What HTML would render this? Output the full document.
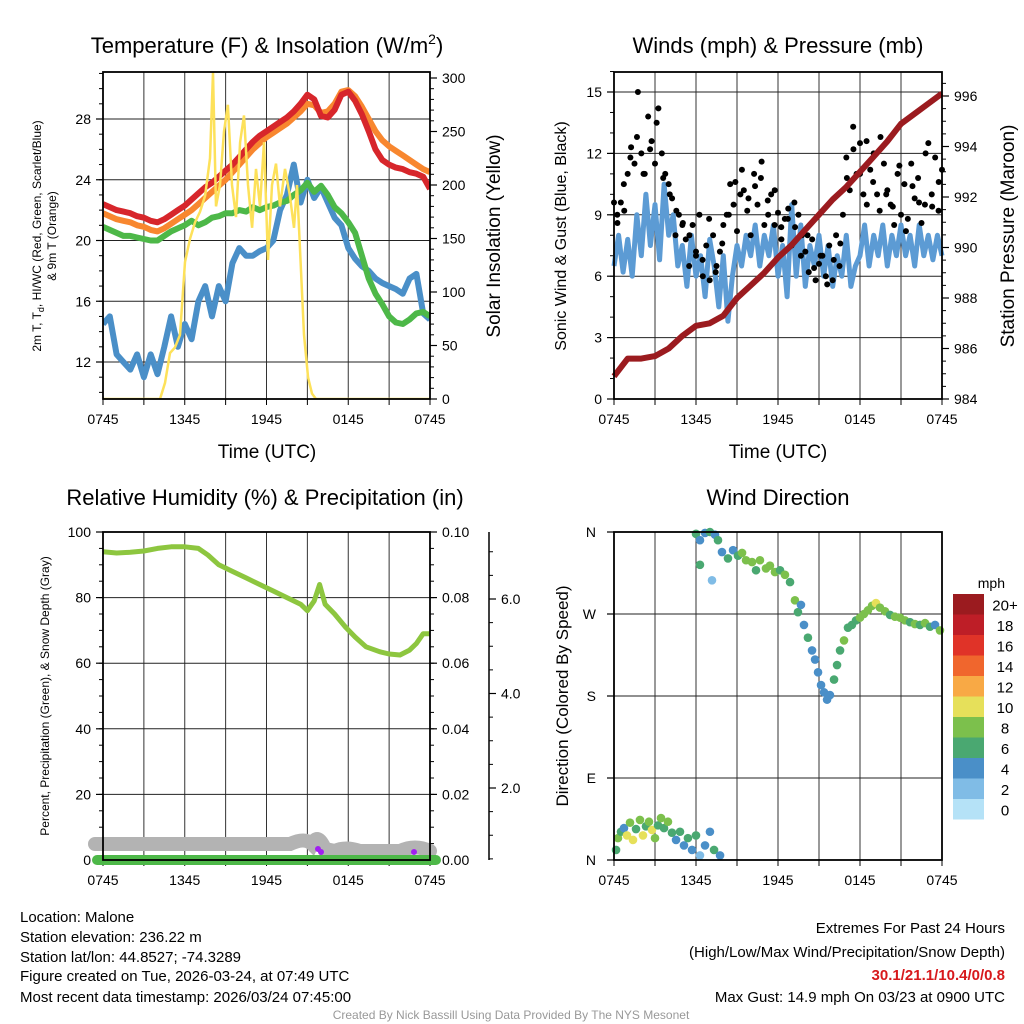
<!DOCTYPE html>
<html><head><meta charset="utf-8"><style>
body{margin:0;background:#fff}
svg{display:block;font-family:"Liberation Sans",Arial,sans-serif}
</style></head><body>
<svg id="s" width="1024" height="1024" viewBox="0 0 1024 1024" xmlns="http://www.w3.org/2000/svg">
<rect width="1024" height="1024" fill="#fff"/>
<g id="g"></g>
<text x="267" y="53" font-size="22" text-anchor="middle">Temperature (F) &amp; Insolation (W/m<tspan dy="-9" font-size="14">2</tspan><tspan dy="9">)</tspan></text>
<text x="778" y="53" font-size="22" text-anchor="middle">Winds (mph) &amp; Pressure (mb)</text>
<text x="265" y="505" font-size="22" text-anchor="middle">Relative Humidity (%) &amp; Precipitation (in)</text>
<text x="778" y="505" font-size="22" text-anchor="middle">Wind Direction</text>
<text x="267" y="458" font-size="19" text-anchor="middle">Time (UTC)</text>
<text x="778" y="458" font-size="19" text-anchor="middle">Time (UTC)</text>
<text transform="translate(41,236) rotate(-90)" font-size="12" text-anchor="middle">2m T, T<tspan dy="3" font-size="9">d</tspan><tspan dy="-3">, HI/WC (Red, Green, Scarlet/Blue)</tspan></text>
<text transform="translate(56,236) rotate(-90)" font-size="12" text-anchor="middle">&amp; 9m T (Orange)</text>
<text transform="translate(500,236) rotate(-90)" font-size="19" text-anchor="middle">Solar Insolation (Yellow)</text>
<text transform="translate(566,236) rotate(-90)" font-size="16" text-anchor="middle">Sonic Wind &amp; Gust (Blue, Black)</text>
<text transform="translate(1014,236) rotate(-90)" font-size="19" text-anchor="middle">Station Pressure (Maroon)</text>
<text transform="translate(49,696) rotate(-90)" font-size="12" text-anchor="middle">Percent, Precipitation (Green), &amp; Snow Depth (Gray)</text>
<text transform="translate(568,696) rotate(-90)" font-size="17" text-anchor="middle">Direction (Colored By Speed)</text>
<text x="1005" y="588" font-size="14" text-anchor="end">mph</text>
<g font-size="15">
<text x="20" y="922">Location: Malone</text>
<text x="20" y="942">Station elevation: 236.22 m</text>
<text x="20" y="962">Station lat/lon: 44.8527; -74.3289</text>
<text x="20" y="981">Figure created on Tue, 2026-03-24, at 07:49 UTC</text>
<text x="20" y="1002">Most recent data timestamp: 2026/03/24 07:45:00</text>
</g>
<g font-size="15" text-anchor="end">
<text x="1005" y="933">Extremes For Past 24 Hours</text>
<text x="1005" y="957">(High/Low/Max Wind/Precipitation/Snow Depth)</text>
<text x="1005" y="980" fill="#d7191c" font-weight="bold">30.1/21.1/10.4/0/0.8</text>
<text x="1005" y="1002">Max Gust: 14.9 mph On 03/23 at 0900 UTC</text>
</g>
<text x="511" y="1019" font-size="12" fill="#999" text-anchor="middle">Created By Nick Bassill Using Data Provided By The NYS Mesonet</text>
</svg>
<script>
// ---- data ----
const tempRed=[22.4,22.2,22.0,21.9,21.8,21.6,21.5,21.3,21.2,21.4,21.7,22.0,22.3,22.7,23.1,23.5,23.8,24.2,24.6,25.0,25.5,26.0,26.5,26.9,27.2,27.5,27.8,28.1,28.5,29.0,29.6,29.3,28.2,28.1,28.6,29.6,29.8,29.2,28.3,27.2,26.0,25.3,25.0,24.8,24.7,24.5,24.4,24.2,23.4];
const tempOrange=[21.8,21.6,21.4,21.3,21.2,21.0,20.9,20.7,20.6,20.8,21.1,21.4,21.7,22.0,22.4,22.8,23.2,23.6,24.0,24.5,25.0,25.5,26.0,26.4,26.8,27.1,27.4,27.7,28.1,28.5,29.0,28.9,28.4,28.5,29.0,29.8,29.9,29.5,28.8,28.0,27.2,26.6,26.2,25.9,25.6,25.3,25.0,24.7,24.5];
const tempGreen=[20.9,20.7,20.5,20.3,20.3,20.2,20.1,20.0,20.0,20.3,20.6,20.8,21.0,21.3,21.0,21.2,21.5,21.6,21.8,21.8,22.0,21.9,22.2,22.0,22.2,22.3,22.5,22.6,23.0,23.3,23.8,23.2,23.6,23.0,22.2,21.8,21.2,20.5,19.0,17.5,16.5,15.8,15.0,14.6,14.5,14.8,15.2,15.3,15.0];
const tempBlue=[14.5,15.0,12.5,12.0,11.5,12.5,11.0,12.5,11.2,13.0,15.0,13.0,14.5,13.5,16.0,17.0,15.0,17.0,16.0,18.5,19.5,19.0,19.0,19.3,19.5,20.0,22.0,23.0,25.0,22.5,24.0,22.8,23.5,22.5,21.5,21.0,19.5,18.8,18.3,18.0,17.5,17.2,17.0,16.8,16.5,17.5,17.8,15.2,14.8];
const solarT=[0,4.18,4.55,4.92,5.28,5.65,6.02,6.39,6.75,7.12,7.49,7.85,8.07,8.29,8.59,8.88,9.17,9.47,9.76,10.06,10.35,10.64,10.94,11.23,11.52,11.82,12.11,12.4,12.7,12.99,13.36,13.72,14.02,14.24,14.46,14.75,15.05,15.34,15.63,24];
const solarV=[0,0,15,43,48,60,128,150,165,175,190,225,305,180,200,250,275,200,170,240,265,200,160,215,180,240,130,200,220,180,215,190,160,200,140,60,20,5,0,0];
const windSpd=[6.5,8,6.2,7.8,6,9,7,10,7.5,9.5,6.8,10.5,8,9,6.5,7.5,5.5,8,6,7,5,7.8,6.5,4.5,7,3.8,6,7.5,6.5,8,7,8.5,6.5,8,7,8.5,6,7.5,5,9.5,6,8.5,5.5,7.5,6.5,8,6,7.5,5.5,7,6,8,5.5,6.5,7,8.5,6.5,8,7,8.5,6.5,8,7,8.5,7,8,6.5,8.5,7,8,6.8,8,7];
const windGust=[9.6,8.6,9.6,9.2,11,12.3,11.5,15,12,11,13.8,12.6,11.5,14.2,12,11,10.5,9.8,8,9,8.5,7.8,6.5,8.5,7,9,6,7.5,5.8,8,6.5,7.2,8.5,9,10.5,9.5,8.2,10,10.2,9.2,8,11,9.5,10.8,8.5,9.7,10,8.5,9.1,7.8,8.8,9.3,7.5,8.4,9,8,7.2,6.2,7.8,5.8,6.6,7,6,7.5,5.8,8,6.5,9,11.8,10.2,13.3,11,12.5,10,9.5,11.2,12,10,12.8,11.5,10.2,9.5,8.5,11,9,10.5,8.8,11.5,9.8,10.8,8.6,9.5,12.5,10,11.8,9.2,11.2];
const windGust2=[9.0,10.5,11.8,12.8,11.0,12.2,13.5,10.8,10.0,9.2,8.6,8.0,7.2,6.8,8.8,6.2,7.6,9.0,10.6,11.2,9.8,10.4,11.6,9.0,10.2,8.4,8.8,9.6,7.0,8.0,6.4,7.0,5.6,6.8,7.6,10.8,12.2,11.0,12.6,10.6,9.2,10.0,9.4,11.4,8.2,10.4,9.6,12.0,9.4,10.6];
const pressure=[984.9,985.6,985.6,985.7,986.0,986.5,986.9,987.0,987.3,988.0,988.5,989.0,989.6,990.1,990.7,991.3,991.9,992.4,993.0,993.6,994.2,994.9,995.3,995.7,996.1];
const rhT=[0,1,2,3,4,5,6,7,7.7,8.5,9.5,10.5,11.5,12.5,13.5,14.5,15,15.5,15.9,16.3,17,17.8,18.5,19.3,20.3,21,21.8,22.5,23,23.5,24];
const rhV=[94,93.6,93.8,94.2,95,95.5,95.5,95,93,90,88,86,84,82,80,78,76,79,84,78,75,71,68,65,63.5,62.8,62.5,64,66,69,69];
const dirT=[.15,.29,.51,.73,.95,1.17,1.39,1.61,1.9,2.12,2.34,2.56,2.78,3.0,3.22,3.44,3.66,3.95,4.24,4.54,4.83,5.12,5.41,5.71,6.0,6.29,6.66,7.02,7.32,7.76,6.0,6.29,6.29,6.66,7.02,7.39,7.17,7.61,7.9,8.34,8.71,9.07,9.37,9.66,10.1,10.39,10.68,11.12,11.41,11.78,12.15,12.51,12.88,13.24,13.46,13.68,13.9,14.19,14.49,14.71,14.93,15.15,15.37,15.59,15.8,16.1,16.32,16.54,16.83,17.12,17.41,17.71,18.0,18.29,18.58,18.88,19.17,19.46,19.83,20.2,20.56,20.93,21.29,21.66,22.02,22.39,22.76,23.12,23.49,23.85];
const dirV=[11,24,31,35,27,41,22,34,44,27,37,42,33,24,38,46,35,42,30,22,31,16,24,11,27,5,16,31,11,5,358,351,324,359,360,357,307,351,338,331,340,334,337,329,327,318,329,320,323,316,318,313,305,285,272,280,258,244,230,220,206,192,184,176,181,198,214,230,241,255,258,263,266,270,274,279,282,277,273,269,267,266,263,261,259,258,260,256,258,252];
const dirS=[6,8,6,4,10,8,10,6,8,10,6,8,10,8,6,8,6,8,6,4,6,4,6,4,6,2,4,4,6,4,6,4,6,4,6,4,2,6,4,6,4,6,8,8,8,6,8,8,8,8,6,8,6,8,6,4,4,6,4,4,4,4,4,4,4,6,6,6,8,6,6,6,8,8,8,8,10,8,8,6,8,8,8,6,8,6,8,6,4,8];
const cbLabels=["0","2","4","6","8","10","12","14","16","18","20+"];
const cbColors=["#b5e2f7","#80bce6","#4a8fc8","#4aa871","#7cc04c","#e6e05a","#f8a945","#f0662d","#e03328","#be1e27","#9b1b1f"];
const xTickLabels=["0745","1345","1945","0145","0745"];
const tempTicks=[12,16,20,24,28], solarTicks=[0,50,100,150,200,250,300];
const windTicks=[0,3,6,9,12,15], presTicks=[984,986,988,990,992,994,996];
const rhTicks=[0,20,40,60,80,100], precipTicks=[0,0.02,0.04,0.06,0.08,0.1], snowTicks=[2,4,6];
const dirLabels=["N","E","S","W","N"], dirTicks=[0,90,180,270,360];

// ---- helpers ----
const NS="http://www.w3.org/2000/svg", G=document.getElementById('g');
function el(tag,attrs,parent){const e=document.createElementNS(NS,tag);for(const k in attrs)e.setAttribute(k,attrs[k]);(parent||G).appendChild(e);return e;}
function txt(x,y,s,attrs){const e=el('text',Object.assign({x:x,y:y,'font-size':14,'text-anchor':'middle'},attrs||{}));e.textContent=s;return e;}
function scale(d0,d1,r0,r1){return v=>r0+(v-d0)*(r1-r0)/(d1-d0);}
function pathD(xs,ys){return xs.map((x,i)=>(i?'L':'M')+x.toFixed(1)+','+ys[i].toFixed(1)).join('');}

function frame(L,T,R,B,name){
  const g=el('g',{});
  
  
  for(let i=1;i<8;i++){const x=L+(R-L)*i/8;el('line',{x1:x,y1:T,x2:x,y2:B,stroke:'#333','stroke-width':1},g);}
  for(let i=0;i<=8;i++){const x=L+(R-L)*i/8;el('line',{x1:x,y1:B,x2:x,y2:B+6,stroke:'#000','stroke-width':1},g);}
  xTickLabels.forEach((s,i)=>{const t=txt(L+(R-L)*i/4,B+25,s);});
}
function border(L,T,R,B,name){
  const r=el('rect',{x:L,y:T,width:R-L,height:B-T,fill:'none',stroke:'#000','stroke-width':1.8});
  
  
}
function yAxis(x,side,sc,ticks,minorStep,lo,hi,fmt,grid,L,R,name,dx){
  ticks.forEach(v=>{const y=sc(v);
    if(grid)el('line',{x1:L,y1:y,x2:R,y2:y,stroke:'#222','stroke-width':1});
    el('line',{x1:x,y1:y,x2:x+side*7,y2:y,stroke:'#000','stroke-width':1.2});
    const t=txt(x+side*(dx||12),y+5,fmt(v),{'text-anchor':side<0?'end':'start'});
    
    
  });
  for(let v=lo;v<=hi+1e-9;v+=minorStep){const y=sc(v);el('line',{x1:x,y1:y,x2:x+side*4,y2:y,stroke:'#000','stroke-width':1});}
}

// ===== Panel 1: temperature =====
(function(){
  const L=103,T=72,R=430,B=399;
  const xs=scale(0,24,L,R), yT=scale(12,28,362,119), yS=scale(0,300,399,78);
  frame(L,T,R,B,'temperature');
  yAxis(L,-1,yT,tempTicks,1,10,31,v=>v,true,L,R,'temp-y');
  yAxis(R,1,yS,solarTicks,10,0,300,v=>v,false,L,R,'solar-y');
  const cp=el('clipPath',{id:'c1'});el('rect',{x:L,y:T,width:R-L,height:B-T},cp);
  const tt=tempRed.map((_,i)=>i*0.5);
  [[tempBlue,'#4a8fc8','dewpoint-line'],[tempGreen,'#4db848','wind-chill-line'],[tempOrange,'#f8872f','temp-9m-line'],[tempRed,'#d7262b','temp-2m-line']].forEach(s=>{
    const p=el('path',{d:pathD(tt.map(xs),s[0].map(yT)),fill:'none',stroke:s[1],'stroke-width':6,'stroke-linejoin':'round','clip-path':'url(#c1)'});
    
    
  });
  const p=el('path',{d:pathD(solarT.map(xs),solarV.map(yS)),fill:'none',stroke:'#fde15a','stroke-width':2.5,'clip-path':'url(#c1)'});
  
  
  border(L,T,R,B,'temperature');
})();

// ===== Panel 2: winds =====
(function(){
  const L=614,T=72,R=942,B=399;
  const xs=scale(0,24,L,R), yW=scale(0,15,399,92), yP=scale(984,996,399,96);
  frame(L,T,R,B,'winds');
  yAxis(L,-1,yW,windTicks,1,0,16,v=>v,true,L,R,'wind-y');
  yAxis(R,1,yP,presTicks,0.5,984,996.5,v=>v,false,L,R,'pressure-y');
  const wt=windSpd.map((_,i)=>i*24/(windSpd.length-1));
  const w=el('path',{d:pathD(wt.map(xs),windSpd.map(yW)),fill:'none',stroke:'#5c9bd4','stroke-width':5,'stroke-linejoin':'round'});
  
  
  windGust.forEach((g,i)=>{const t=i*24/(windGust.length-1);
    const c=el('circle',{cx:xs(t),cy:yW(g),r:3,fill:'#000'});
    
    
  });
  windGust2.forEach((g,i)=>{const t=(i+0.5)*24/windGust2.length;
    const c=el('circle',{cx:xs(t),cy:yW(g),r:3,fill:'#000'});
    
    
  });
  const pt=pressure.map((_,i)=>i);
  const p=el('path',{d:pathD(pt.map(xs),pressure.map(yP)),fill:'none',stroke:'#9b1b1f','stroke-width':6,'stroke-linejoin':'round'});
  
  
  border(L,T,R,B,'winds');
})();

// ===== Panel 3: humidity =====
(function(){
  const L=103,T=532,R=430,B=860;
  const xs=scale(0,24,L,R), yR=scale(0,100,860,532), yPr=scale(0,0.1,860,532);
  frame(L,T,R,B,'humidity');
  yAxis(L,-1,yR,rhTicks,5,0,100,v=>v,true,L,R,'rh-y');
  yAxis(R,1,yPr,precipTicks,0.005,0,0.1,v=>v.toFixed(2),false,L,R,'precip-y');
  const ySn=scale(2,6,788,599);
  el('line',{x1:489,y1:532,x2:489,y2:860,stroke:'#000','stroke-width':1.5});
  yAxis(489,1,ySn,snowTicks,0.5,0.5,7,v=>v.toFixed(1),false,L,R,'snow-y',12);
  const sn=el('path',{d:'M95,844 L290,844 Q305,837 312,844 Q318,832 325,849 L335,851 Q345,846 360,851 L400,851 Q415,844 430,851',fill:'none',stroke:'#b3b3b3','stroke-width':14,'stroke-linecap':'round'});
  
  
  const pr=el('path',{d:'M'+(L-6)+','+B+'L'+(R+6)+','+B,stroke:'#4db848','stroke-width':10,'stroke-linecap':'round'});
  
  
  [[318,849],[321,852],[414,852]].forEach(q=>{el('circle',{cx:q[0],cy:q[1],r:3,fill:'#a020f0'});});
  const rh=el('path',{d:pathD(rhT.map(xs),rhV.map(yR)),fill:'none',stroke:'#8dc63f','stroke-width':5,'stroke-linejoin':'round'});
  
  
  border(L,T,R,B,'humidity');
})();

// ===== Panel 4: wind direction =====
(function(){
  const L=614,T=532,R=942,B=860;
  const xs=scale(0,24,L,R), yD=scale(0,360,860,532);
  frame(L,T,R,B,'direction');
  yAxis(L,-1,yD,dirTicks,90,0,360,v=>dirLabels[dirTicks.indexOf(v)],true,L,R,'dir-y',18);
  dirT.forEach((t,i)=>{
    const c=el('circle',{cx:xs(t),cy:yD(dirV[i]),r:4.3,fill:cbColors[Math.min(10,Math.floor(dirS[i]/2))]});
    
    
  });
  border(L,T,R,B,'direction');
  const h=20.5, top=594;
  cbColors.forEach((c,i)=>{
    const y=top+(10-i)*h;
    const r=el('rect',{x:953,y:y,width:31,height:h,fill:c});
    
    
    const t=txt(1005,y+h/2+6,cbLabels[i],{'font-size':15});
    
    
  });
})();
</script>
</body></html>
